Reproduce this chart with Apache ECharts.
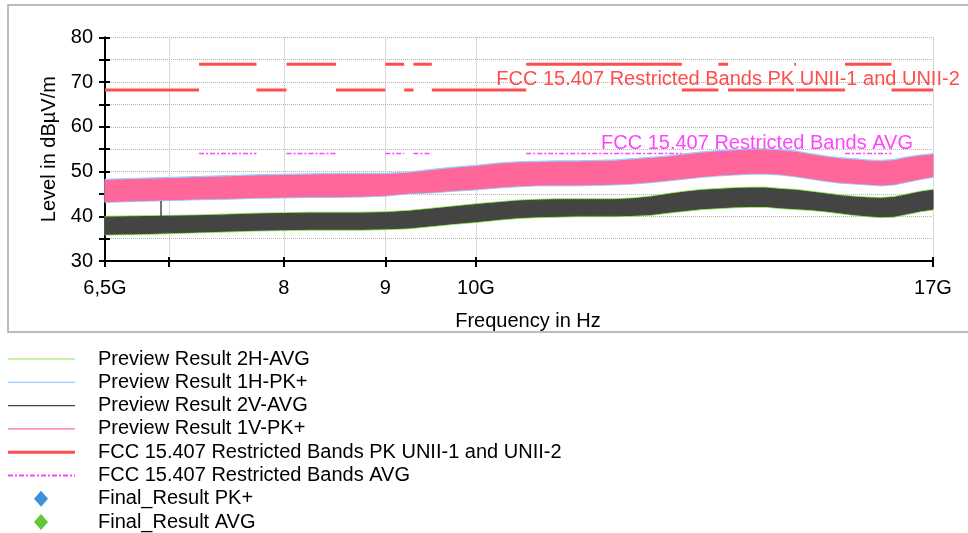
<!DOCTYPE html>
<html><head><meta charset="utf-8">
<script src="https://cdn.jsdelivr.net/npm/echarts@6/dist/echarts.min.js"></script>
<style>html,body{margin:0;padding:0;background:#fff}#c{width:968px;height:533px}</style>
</head><body><div id="c"></div>
<script>
// ---------- data (frequencies in GHz, levels in dBµV/m) ----------
const freqGHz = [6.5,6.75,7,7.25,7.5,7.75,8,8.25,8.5,8.75,9,9.25,9.5,9.75,10,10.25,10.5,10.75,11,11.25,11.5,11.75,12,12.25,12.5,12.75,13,13.25,13.5,13.75,14,14.25,14.5,14.75,15,15.25,15.5,15.75,16,16.25,16.5,16.75,17];

// Preview Result 1V-PK+ (pink) band: upper / lower envelope
const pk1VHigh = [48.0,48.2,48.4,48.6,48.8,49.0,49.1,49.2,49.3,49.3,49.3,49.6,50.2,50.7,51.1,51.6,51.9,52.0,52.1,52.1,52.2,52.3,52.6,52.9,53.2,53.7,54.1,54.4,54.6,54.8,54.8,54.6,54.3,53.7,53.2,52.8,52.6,52.3,52.2,52.4,53.0,53.4,53.7];
const pk1VLow  = [43.3,43.5,43.7,43.9,44.0,44.2,44.3,44.4,44.4,44.5,44.7,45.2,45.4,45.8,46.1,46.5,46.8,47.0,47.0,47.0,47.1,47.2,47.4,47.7,48.1,48.5,48.9,49.2,49.4,49.6,49.6,49.4,49.0,48.5,48.0,47.6,47.4,47.2,47.0,47.2,47.8,48.4,48.9];
// Preview Result 1H-PK+ (light blue) band
const pk1HHigh = [48.3,48.5,48.7,48.9,49.1,49.3,49.4,49.5,49.6,49.6,49.6,49.9,50.5,51.0,51.4,51.9,52.2,52.3,52.4,52.4,52.5,52.6,52.9,53.2,53.5,54.0,54.4,54.7,54.9,55.1,55.1,54.9,54.6,54.0,53.5,53.1,52.9,52.6,52.5,52.7,53.3,53.7,54.0];
const pk1HLow  = [43.1,43.3,43.5,43.7,43.8,44.0,44.1,44.2,44.2,44.3,44.5,45.0,45.2,45.6,45.9,46.3,46.6,46.8,46.8,46.8,46.9,47.0,47.2,47.5,47.9,48.3,48.7,49.0,49.2,49.4,49.4,49.2,48.8,48.3,47.8,47.4,47.2,47.0,46.8,47.0,47.6,48.2,48.7];
// Preview Result 2V-AVG (dark grey) band
const avg2VHigh = [39.8,39.9,40.0,40.1,40.3,40.5,40.6,40.7,40.7,40.7,40.8,41.1,41.6,42.1,42.6,43.0,43.4,43.6,43.7,43.7,43.7,43.7,43.9,44.3,44.9,45.4,45.8,46.0,46.2,46.3,46.3,46.0,45.8,45.4,45.0,44.6,44.3,44.1,44.0,44.2,44.8,45.4,45.8];
const avg2VLow  = [36.0,36.1,36.3,36.5,36.7,36.9,37.0,37.1,37.1,37.1,37.2,37.4,37.9,38.4,38.8,39.3,39.7,39.9,40.0,40.1,40.1,40.1,40.2,40.4,40.9,41.3,41.7,41.9,42.1,42.2,42.2,41.9,41.7,41.5,41.2,40.8,40.4,40.1,39.9,40.0,40.6,41.2,41.6];
// Preview Result 2H-AVG (light green) band
const avg2HHigh = [40.0,40.1,40.2,40.3,40.5,40.7,40.8,40.9,40.9,40.9,41.0,41.3,41.8,42.3,42.8,43.2,43.6,43.8,43.9,43.9,43.9,43.9,44.1,44.5,45.1,45.6,46.0,46.2,46.4,46.5,46.5,46.2,46.0,45.6,45.2,44.8,44.5,44.3,44.2,44.4,45.0,45.6,46.0];
const avg2HLow  = [35.8,35.9,36.1,36.3,36.5,36.7,36.8,36.9,36.9,36.9,37.0,37.2,37.7,38.2,38.6,39.1,39.5,39.7,39.8,39.9,39.9,39.9,40.0,40.2,40.7,41.1,41.5,41.7,41.9,42.0,42.0,41.7,41.5,41.3,41.0,40.6,40.2,39.9,39.7,39.8,40.4,41.0,41.4];
// narrow spike in 2V-AVG near 6.94 GHz: [freq, base, top]
const avg2VSpike = [6.937, 39.5, 43.4];

// FCC 15.407 restricted bands (GHz) and limit levels
const restrictedBands = [[7.25,7.75],[8.025,8.5],[9.0,9.2],[9.3,9.5],[10.6,12.7],[13.25,13.4],[14.47,14.5],[15.35,16.2]];
const pkLimitRestricted = 74;
const pkLimitOther = 68.2;
const avgLimitRestricted = 54;

// axis ticks
const xTickValues = [6.5,7,8,9,10,17];
const xLabelValues = [6.5,8,9,10,17];
const xLabelTexts = ['6,5G','8','9','10G','17G'];

const seriesNames = ['Preview Result 2H-AVG','Preview Result 1H-PK+','Preview Result 2V-AVG','Preview Result 1V-PK+','FCC 15.407 Restricted Bands PK UNII-1 and UNII-2','FCC 15.407 Restricted Bands AVG','Final_Result PK+','Final_Result AVG'];

// ---------- styles ----------
const FONT = '"Liberation Sans", Arial, sans-serif';
const C = {green:'#88e84c', blue:'#99ccff', dark:'#444444', pink:'#ff6699', red:'#ff4d4d', mag:'#ff44ff', dBlue:'#3f90db', dGreen:'#62c836'};

function bandSeries(name, low, high, color) {
  return {
    type:'custom', name: name, xAxisIndex:0, yAxisIndex:0,
    data: freqGHz.map((f,i)=>[f, low[i], high[i]]),
    encode:{x:0, y:[1,2]},
    silent:true,
    renderItem: function(params, api){
      if (params.dataIndexInside !== 0) return null;
      const n = params.dataInsideLength || freqGHz.length;
      const top=[], bot=[];
      for (let i=0;i<n;i++){
        top.push(api.coord([api.value(0,i), api.value(2,i)]));
        bot.push(api.coord([api.value(0,i), api.value(1,i)]));
      }
      return {type:'polygon', shape:{points: top.concat(bot.reverse())}, style:{fill:color, stroke:color, lineWidth:1}};
    }
  };
}

function limitData(bands, inLevel, outLevel) {
  const pts = []; let start = 6.5;
  bands.forEach(function(b){
    if (outLevel != null) { pts.push([start,outLevel],[b[0],outLevel],[b[0],null]); }
    pts.push([b[0],inLevel],[b[1],inLevel],[b[1],null]);
    start = b[1];
  });
  if (outLevel != null) pts.push([start,outLevel],[17,outLevel]);
  return pts;
}

const chart = echarts.init(document.getElementById('c'), null, {renderer:'canvas'});

const legendKinds = ['line','line','line','line','thick','dashdot','diamond','diamond'];
const legendColors = [C.green, C.blue, C.dark, C.pink, C.red, C.mag, C.dBlue, C.dGreen];
const legendGraphics = [];
seriesNames.forEach(function(nm, i){
  const y = 359 + i*23.3;
  const k = legendKinds[i];
  if (k === 'diamond') {
    legendGraphics.push({type:'polygon', shape:{points:[[41,y-8],[48,y],[41,y+8],[34,y]]}, style:{fill:legendColors[i]}});
  } else {
    legendGraphics.push({type:'line', shape:{x1:8,y1:y,x2:75,y2:y}, style:{stroke:legendColors[i], lineWidth: k==='thick'?3:(k==='dashdot'?2:1.2), lineDash: k==='dashdot'?[5,2,2,2]:null}});
  }
  legendGraphics.push({type:'text', x:98, y:y, style:{text:nm, fill:'#000', font:'20px '+FONT, textVerticalAlign:'middle', textAlign:'left'}});
});

const option = {
  animation:false,
  backgroundColor:'#fff',
  grid:{left:105, right:35, top:37.3, bottom:272, containLabel:false, outerBoundsMode:'none'},
  xAxis:[{
    type:'log', logBase:10, min:6.5, max:17,
    name:'Frequency in Hz', nameLocation:'middle', nameGap:50,
    nameTextStyle:{color:'#000', fontSize:20, fontFamily:FONT, padding:[0,0,0,18]},
    axisLine:{show:true, onZero:false, lineStyle:{color:'#000', width:2}},
    axisTick:{show:true, customValues:xTickValues, length:6, lineStyle:{color:'#000', width:2}},
    axisLabel:{customValues:xLabelValues, margin:17, color:'#000', fontSize:20, fontFamily:FONT,
      formatter:function(v){ const r=Math.round(v*10)/10; const k=xLabelValues.indexOf(r); return k>=0?xLabelTexts[k]:''; }},
    splitLine:{show:true, lineStyle:{color:'#b4b4b4', type:'dotted', width:1}},
    minorTick:{show:false}, minorSplitLine:{show:false}
  },{
    type:'log', logBase:10, min:6.5, max:17, position:'bottom',
    axisLine:{show:false}, axisLabel:{show:false}, splitLine:{show:false},
    axisTick:{show:true, inside:true, customValues:xTickValues, length:4, lineStyle:{color:'#000', width:2}}
  }],
  yAxis:[{
    type:'value', min:30, max:80, interval:5,
    name:'Level in dBµV/m', nameLocation:'middle', nameGap:38,
    nameTextStyle:{color:'#000', fontSize:20, fontFamily:FONT},
    axisLine:{show:true, onZero:false, lineStyle:{color:'#000', width:2}},
    axisTick:{show:true, length:6, lineStyle:{color:'#000', width:2}},
    axisLabel:{margin:12, color:'#000', fontSize:20, fontFamily:FONT, formatter:function(v){return v%10===0?String(v):'';}},
    splitLine:{show:true, lineStyle:{color:'#b4b4b4', type:'dotted', width:1}}
  },{
    type:'value', min:30, max:80, interval:5, position:'left',
    axisLine:{show:false}, axisLabel:{show:false}, splitLine:{show:false},
    axisTick:{show:true, inside:true, length:5, lineStyle:{color:'#000', width:2}}
  }],
  graphic:[
    {type:'rect', shape:{x:8, y:5, width:1000, height:327}, style:{fill:null, stroke:'#a6a6a6', lineWidth:1.5}, z:-10, silent:true},
    {type:'text', x:728, y:79.5, style:{text:seriesNames[4], fill:C.red, font:'20px '+FONT, textAlign:'center', textVerticalAlign:'middle'}, z:100},
    {type:'text', x:757, y:143, style:{text:seriesNames[5], fill:C.mag, font:'20px '+FONT, textAlign:'center', textVerticalAlign:'middle'}, z:100}
  ].concat(legendGraphics),
  series:[
    bandSeries(seriesNames[1], pk1HLow, pk1HHigh, C.blue),
    bandSeries(seriesNames[3], pk1VLow, pk1VHigh, C.pink),
    bandSeries(seriesNames[0], avg2HLow, avg2HHigh, C.green),
    bandSeries(seriesNames[2], avg2VLow, avg2VHigh, C.dark),
    {type:'line', name:seriesNames[2]+' spike', data:[[avg2VSpike[0],avg2VSpike[1]],[avg2VSpike[0],avg2VSpike[2]]], showSymbol:false, symbol:'none', lineStyle:{color:C.dark, width:1.5}, silent:true},
    {type:'line', name:seriesNames[4], data:limitData(restrictedBands, pkLimitRestricted, pkLimitOther), connectNulls:false, showSymbol:false, symbol:'none', lineStyle:{color:C.red, width:3}, silent:true, z:5},
    {type:'line', name:seriesNames[5], data:limitData(restrictedBands, avgLimitRestricted, null), connectNulls:false, showSymbol:false, symbol:'none', lineStyle:{color:C.mag, width:1.5, type:[5,2,2,2]}, silent:true, z:5},
    {type:'scatter', name:seriesNames[6], data:[], symbol:'diamond', itemStyle:{color:C.dBlue}},
    {type:'scatter', name:seriesNames[7], data:[], symbol:'diamond', itemStyle:{color:C.dGreen}}
  ]
};
chart.setOption(option);
</script>
</body></html>
